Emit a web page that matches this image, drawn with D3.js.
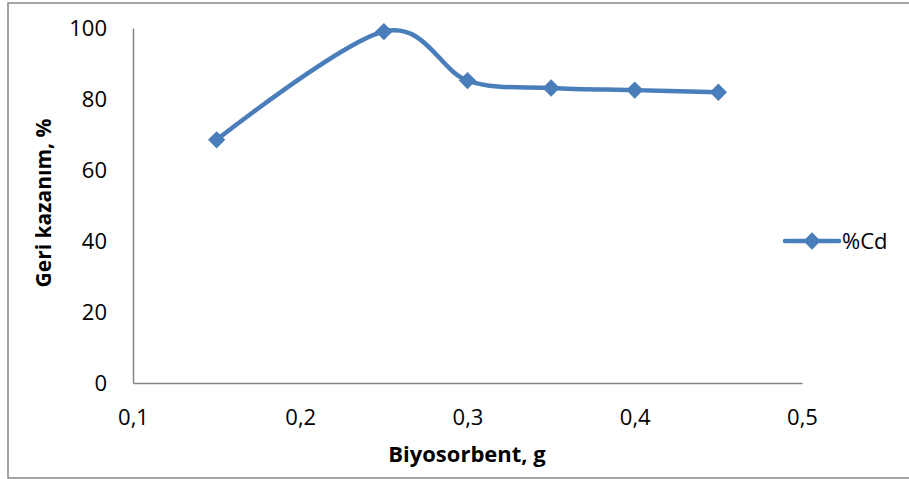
<!DOCTYPE html>
<html><head><meta charset="utf-8">
<script src="https://cdn.jsdelivr.net/npm/d3@7/dist/d3.min.js"></script>
<style>body{margin:0;background:#fff}svg{display:block}</style>
</head><body>
<script>
const xValues = [0.15, 0.25, 0.30, 0.35, 0.40, 0.45];
const cdValues = [68.5, 99.0, 85.2, 83.1, 82.5, 81.9];
const xTicks = [0.1, 0.2, 0.3, 0.4, 0.5];
const yTicks = [0, 20, 40, 60, 80, 100];
const seriesName = "%Cd";
const xTitle = "Biyosorbent, g";
const yTitle = "Geri kazanım, %";

const W = 909, H = 479;
const svg = d3.select("body").append("svg").attr("width", W).attr("height", H);
svg.append("rect").attr("x", 8).attr("y", 3).attr("width", 920).attr("height", 475)
  .attr("fill", "#fff").attr("stroke", "#868686").attr("stroke-width", 1.5);

const x = d3.scaleLinear().domain([0.1, 0.5]).range([133, 802]);
const y = d3.scaleLinear().domain([0, 100]).range([383, 28]);
const font = "'Open Sans', sans-serif";
const fmt = d => d3.format(".1f")(d).replace(".", ",");

const xAxis = svg.append("g").attr("transform", "translate(0,383)")
  .call(d3.axisBottom(x).tickValues(xTicks).tickFormat(fmt).tickSize(0).tickPadding(26));
const yAxis = svg.append("g").attr("transform", "translate(133,0)")
  .call(d3.axisLeft(y).tickValues(yTicks).tickSize(0).tickPadding(26));
[xAxis, yAxis].forEach(g => {
  g.select(".domain").attr("stroke", "#868686").attr("stroke-width", 1.5);
  g.selectAll("text").attr("font-family", font).attr("font-size", 22).attr("fill", "#000");
});

const line = d3.line().x((d, i) => x(xValues[i])).y(d => y(d)).curve(d3.curveCatmullRom.alpha(0));
svg.append("path").datum(cdValues).attr("d", line).attr("fill", "none")
  .attr("stroke", "#4a7ebb").attr("stroke-width", 4.5).attr("stroke-linejoin", "round");

svg.selectAll(".m").data(cdValues).enter().append("path")
  .attr("d", d3.symbol().type(d3.symbolSquare).size(150))
  .attr("transform", (d, i) => `translate(${x(xValues[i])},${y(d)}) rotate(45)`)
  .attr("fill", "#4a7ebb");

// legend
const lg = svg.append("g");
lg.append("line").attr("x1", 785).attr("x2", 839).attr("y1", 241).attr("y2", 241)
  .attr("stroke", "#4a7ebb").attr("stroke-width", 4.5).attr("stroke-linecap", "round");
lg.append("path").attr("d", d3.symbol().type(d3.symbolSquare).size(150)())
  .attr("transform", "translate(812,241) rotate(45)").attr("fill", "#4a7ebb");
lg.append("text").attr("x", 842).attr("y", 241).attr("dy", "0.35em")
  .attr("font-family", font).attr("font-size", 22).text(seriesName);

svg.append("text").attr("x", 467).attr("y", 462).attr("text-anchor", "middle")
  .attr("font-family", font).attr("font-weight", "bold").attr("font-size", 22).text(xTitle);
svg.append("text").attr("transform", "translate(51,203) rotate(-90)").attr("text-anchor", "middle")
  .attr("font-family", font).attr("font-weight", "bold").attr("font-size", 21).text(yTitle);
</script>
</body></html>
